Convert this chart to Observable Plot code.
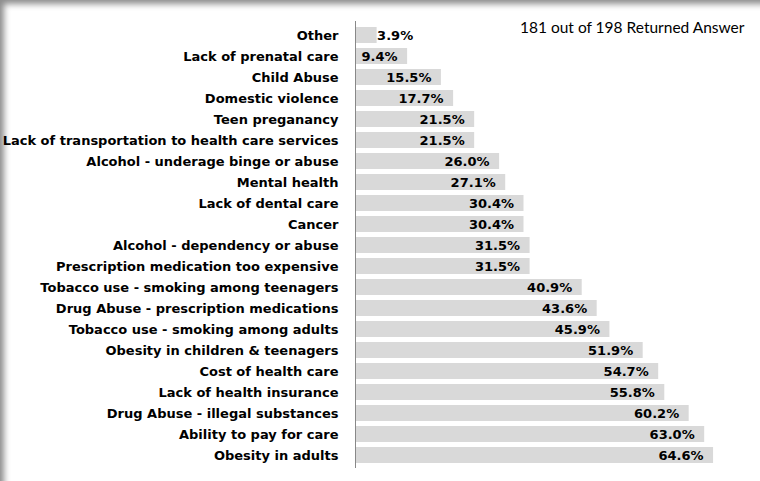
<!DOCTYPE html>
<html>
<head>
<meta charset="utf-8">
<script src="https://cdn.jsdelivr.net/npm/d3@7"></script>
<script src="https://cdn.jsdelivr.net/npm/@observablehq/plot@0.6"></script>
<style>
  html, body { margin: 0; padding: 0; background: #fff; }
  #frame {
    position: relative; width: 760px; height: 481px; overflow: hidden; background: #fff;
    box-shadow: inset 6px 6px 6px -2px rgba(0,0,0,0.45);
  }
  #chart { position: absolute; left: 0; top: 0; }
  #note {
    position: absolute; left: 520px; top: 18px;
    font-family: Lato, "Open Sans", sans-serif; font-size: 15.5px; color: #000; white-space: nowrap;
  }
</style>
</head>
<body>
<div id="frame">
  <div id="chart"></div>
  <div id="note">181 out of 198 Returned Answer</div>
</div>
<script>
const categories = [
  "Other",
  "Lack of prenatal care",
  "Child Abuse",
  "Domestic violence",
  "Teen preganancy",
  "Lack of transportation to health care services",
  "Alcohol - underage binge or abuse",
  "Mental health",
  "Lack of dental care",
  "Cancer",
  "Alcohol - dependency or abuse",
  "Prescription medication too expensive",
  "Tobacco use - smoking among teenagers",
  "Drug Abuse - prescription medications",
  "Tobacco use - smoking among adults",
  "Obesity in children & teenagers",
  "Cost of health care",
  "Lack of health insurance",
  "Drug Abuse - illegal substances",
  "Ability to pay for care",
  "Obesity in adults"
];
const values = [3.9, 9.4, 15.5, 17.7, 21.5, 21.5, 26.0, 27.1, 30.4, 30.4, 31.5, 31.5,
                40.9, 43.6, 45.9, 51.9, 54.7, 55.8, 60.2, 63.0, 64.6];

const data = categories.map((c, i) => ({category: c, value: values[i]}));
const fmt = d => d.value.toFixed(1) + "%";

const chart = Plot.plot({
  width: 760,
  height: 481,
  marginLeft: 355,
  marginRight: 17,
  marginTop: 21,
  marginBottom: 13,
  style: {fontFamily: "'DejaVu Sans', sans-serif", fontSize: "13px", fontWeight: "bold", color: "#000", background: "transparent"},
  x: {domain: [0, 70], axis: null},
  y: {domain: categories, padding: 0.25, label: null, axis: null},
  marks: [
    Plot.barX(data, {x: "value", y: "category", fill: "#d9d9d9"}),
    Plot.ruleX([0], {stroke: "#888", strokeWidth: 1}),
    Plot.axisY({tickSize: 0, tickPadding: 17, label: null, fill: "#000"}),
    Plot.text(data, {filter: d => d.value >= 5, x: "value", y: "category", text: fmt, textAnchor: "end", dx: -10, fill: "#000"}),
    Plot.text(data, {filter: d => d.value < 5, x: "value", y: "category", text: fmt, textAnchor: "start", dx: 0, fill: "#000"})
  ]
});
document.getElementById("chart").appendChild(chart);
</script>
</body>
</html>
